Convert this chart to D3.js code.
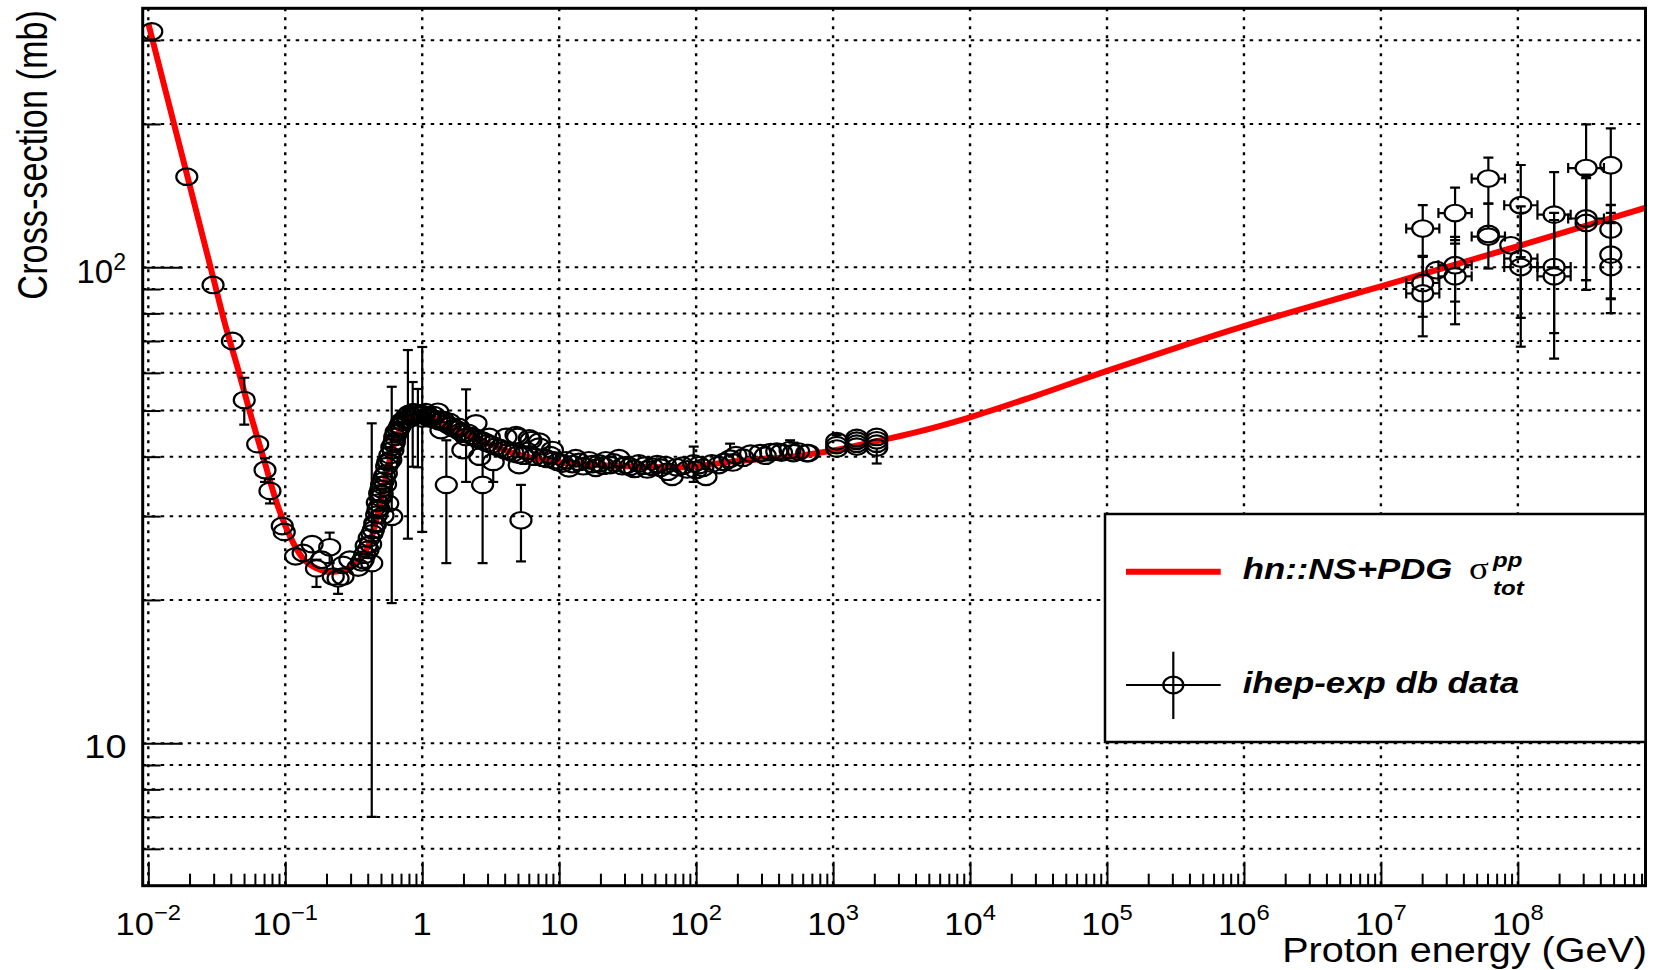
<!DOCTYPE html>
<html>
<head>
<meta charset="utf-8">
<script src="https://cdn.jsdelivr.net/npm/d3@7"></script>
<style>
  html, body { margin: 0; padding: 0; background: #fff; }
  svg { display: block; }
</style>
</head>
<body>
<svg id="chart" width="1654" height="970"></svg>
<script>
// ---------------------------------------------------------------------------
// Total pp cross-section (mb) versus proton laboratory energy (GeV)
// ---------------------------------------------------------------------------

// Model curve: hn::NS+PDG sigma_tot^pp  [energy GeV, cross-section mb]
const curveEnergy = [0.0100, 0.0191, 0.0298, 0.0363, 0.0442, 0.0553, 0.0692, 0.0866, 0.1083, 0.1354,
  0.170, 0.212, 0.265, 0.320, 0.370, 0.400, 0.450, 0.500, 0.550, 0.600, 0.650, 0.700, 0.800, 0.900,
  1.0, 1.2, 1.6, 2.64, 4.63, 10.1, 31, 76, 187, 574, 1000, 2000, 4000, 1e4, 3e4, 1e5, 3e5, 1e6, 3e6,
  1e7, 1e8, 8.6e8];
const curveSigma = [325, 157, 95, 76, 62.5, 49.5, 39.8, 32.0, 27.2, 24.4,
  23.3, 22.9, 23.1, 23.7, 24.8, 25.8, 28.5, 32.5, 37.0, 41.0, 44.0, 46.3, 48.2, 48.8,
  48.8, 48.2, 46.2, 43.3, 40.7, 38.9, 38.2, 38.0, 39.1, 40.2, 41.2, 43.0, 45.0, 48.4, 53.7, 60.6, 67.3, 75.2, 82.6,
  91.2, 110.7, 133.5];

// Measurements [energy GeV, sigma mb, error down, error up]
const thresholdPoints = [
  [0.0106, 313, 0, 0], [0.0191, 155, 0, 0], [0.0297, 91.8, 0, 0], [0.0411, 70, 0, 0],
  [0.0502, 52.6, 5.9, 6.0], [0.0629, 42.5, 0, 0], [0.0711, 37.5, 2.1, 2.2], [0.0773, 33.9, 2.0, 2.0],
  [0.0951, 28.6, 0, 0], [0.0983, 27.8, 0, 0], [0.119, 24.7, 0, 0], [0.135, 25.1, 0, 0],
  [0.157, 26.2, 0, 0], [0.169, 23.3, 2.0, 1.0], [0.184, 24.3, 0, 0], [0.211, 25.8, 1.9, 1.9],
  [0.224, 22.4, 0, 0], [0.243, 22.2, 1.6, 0.9], [0.264, 22.4, 0, 0], [0.264, 23.7, 0, 0],
  [0.296, 24.3, 0, 0], [0.34, 23.4, 0, 0], [0.36, 24.0, 0, 0], [0.37, 24.3, 0, 0],
  [0.38, 24.9, 0, 0], [0.39, 26.0, 0, 0], [0.402, 25.5, 0, 0]
];

const resonancePoints = [
  [0.41, 27.0, 0, 0], [0.42, 26.2, 0, 0], [0.428, 23.9, 16.9, 23.1], [0.43, 27.6, 0, 0],
  [0.44, 28.1, 0, 0], [0.45, 29.0, 0, 0], [0.455, 28.8, 0, 0], [0.465, 30.2, 0, 0],
  [0.47, 32.0, 0, 0], [0.475, 30.9, 0, 0], [0.48, 31.2, 0, 0], [0.489, 33.5, 0, 0],
  [0.495, 32.8, 0, 0], [0.50, 34.2, 0, 0], [0.505, 34.9, 0, 0], [0.51, 33.4, 0, 0],
  [0.517, 30.1, 0, 0], [0.52, 35.6, 0, 0], [0.53, 36.4, 0, 0], [0.54, 35.0, 0, 0],
  [0.547, 36.9, 0, 0], [0.55, 38.2, 0, 0], [0.56, 31.9, 0, 0], [0.56, 39.0, 0, 0],
  [0.57, 38.9, 0, 0], [0.58, 40.3, 0, 0], [0.59, 39.4, 0, 0], [0.599, 29.9, 10.2, 26.2],
  [0.60, 41.9, 0, 0], [0.611, 41.3, 0, 0], [0.62, 42.6, 0, 0], [0.626, 43.0, 0, 0],
  [0.63, 44.0, 0, 0], [0.645, 45.1, 0, 0], [0.65, 44.8, 0, 0], [0.67, 45.6, 0, 0],
  [0.684, 46.2, 0, 0], [0.69, 46.5, 0, 0], [0.71, 47.4, 0, 0], [0.72, 47.3, 0, 0],
  [0.74, 47.8, 0, 0], [0.77, 48.6, 0, 0], [0.786, 47.9, 21.0, 19.1], [0.80, 49.2, 0, 0],
  [0.83, 48.7, 0, 0], [0.852, 48.5, 10.4, 8.9], [0.86, 49.6, 0, 0], [0.89, 49.1, 0, 0],
  [0.905, 48.9, 0, 0], [0.93, 48.9, 10.9, 6.6], [0.97, 49.3, 0, 0], [1.0, 48.1, 20.3, 19.9],
  [1.02, 49.0, 0, 0], [1.06, 49.6, 0, 0], [1.1, 48.7, 0, 0], [1.13, 48.1, 0, 0],
  [1.16, 48.3, 0, 0], [1.22, 48.9, 0, 0], [1.28, 47.9, 0, 0], [1.3, 49.7, 0, 0],
  [1.34, 47.4, 0, 0], [1.37, 45.5, 0, 0], [1.42, 47.8, 0, 0], [1.5, 34.9, 11.0, 8.4],
  [1.5, 46.9, 0, 0], [1.58, 47.3, 0, 0], [1.6, 46.4, 0, 0], [1.7, 45.9, 0, 0],
  [1.8, 45.6, 0, 0], [1.84, 46.2, 0, 0], [1.9, 45.1, 0, 0], [1.98, 41.3, 0, 0],
  [2.0, 44.7, 0, 0], [2.09, 44.0, 8.6, 11.4], [2.15, 44.9, 0, 0], [2.3, 44.2, 0, 0],
  [2.45, 43.8, 0, 0], [2.47, 47.0, 0, 0], [2.6, 43.5, 0, 0], [2.63, 40.0, 0, 0],
  [2.76, 34.9, 11.0, 7.7], [2.8, 43.1, 0, 0], [3.0, 42.7, 0, 0]
];

const plateauPoints = [
  [3.09, 44.0, 0, 0], [3.2, 42.4, 0, 0], [3.3, 39.0, 3.6, 0], [3.45, 42.0, 0, 0],
  [3.7, 41.7, 0, 0], [3.98, 41.3, 0, 0], [4.09, 44.0, 0, 0], [4.3, 41.0, 0, 0],
  [4.6, 40.7, 0, 0], [4.84, 44.4, 0, 0], [4.97, 44.0, 0, 0], [5.0, 40.4, 0, 0],
  [5.1, 38.4, 0, 0], [5.26, 29.4, 5.3, 5.5], [5.5, 40.2, 0, 0], [5.8, 41.1, 0, 0],
  [6.05, 43.7, 0, 0], [6.22, 43.3, 0, 0], [6.6, 40.0, 0, 0], [7.15, 43.0, 0, 0],
  [7.15, 42.0, 0, 0], [7.6, 39.8, 0, 0], [8.1, 39.6, 0, 0], [8.6, 40.3, 0, 0],
  [8.93, 41.3, 0, 0], [9.2, 39.3, 0, 0], [9.8, 39.0, 0, 0], [10.6, 38.7, 0, 0],
  [11.2, 39.3, 0, 0], [11.8, 37.8, 0, 0], [12.5, 38.6, 0, 0], [13.2, 39.7, 0, 0],
  [14.0, 39.0, 0, 0], [15.0, 38.2, 0, 0], [16.5, 39.3, 0, 0], [17.5, 38.6, 0, 0],
  [18.5, 37.9, 0, 0], [19.5, 38.7, 0, 0], [21.0, 38.3, 0, 0], [21.9, 39.3, 0, 0],
  [23.5, 38.4, 0, 0], [25.0, 38.9, 0, 0], [27.3, 39.7, 0, 0], [29.0, 38.2, 0, 0],
  [30.9, 38.4, 0, 0], [33.0, 38.1, 0, 0], [35.5, 37.7, 0, 0], [38.2, 38.7, 0, 0],
  [42.0, 38.3, 0, 0], [44.0, 37.6, 0, 0], [47.8, 38.1, 0, 0], [52.0, 38.6, 0, 0],
  [55.0, 37.9, 0, 0], [59.8, 38.4, 0, 0], [62.0, 37.2, 0, 0], [66.8, 36.3, 0, 0],
  [72.0, 38.0, 0, 0], [80.0, 38.3, 0, 0], [86.0, 37.6, 0, 0], [96.0, 38.7, 3.3, 3.3],
  [100, 37.5, 0, 0], [105, 38.4, 0, 0], [112, 37.9, 0, 0], [118, 36.3, 0, 0],
  [130, 38.7, 0, 0], [146, 38.4, 0, 0], [160, 39.0, 0, 0], [177, 39.6, 0, 3.0],
  [185, 38.9, 0, 0], [195, 40.3, 0, 0], [220, 39.8, 0, 0], [250, 40.6, 0, 0],
  [293, 40.7, 0, 0], [320, 40.2, 0, 0], [350, 40.9, 0, 0], [388, 41.0, 0, 0],
  [420, 40.8, 0, 0], [485, 41.3, 0, 2.0], [513, 40.7, 0, 2.1], [560, 41.0, 0, 0],
  [642, 40.7, 0, 0], [660, 40.7, 0, 0]
];

const colliderPoints = [
  [1063, 41.6, 0, 0], [1063, 42.3, 0, 2.1], [1063, 43.1, 0, 0],
  [1488, 42.0, 0, 0], [1488, 42.6, 0, 0], [1488, 43.2, 0, 0], [1488, 43.8, 0, 0],
  [2083, 41.8, 0, 0], [2083, 42.6, 0, 0], [2083, 43.3, 4.6, 0], [2083, 44.0, 0, 0]
];

// Cosmic-ray estimates [energy, sigma, error down, error up, energy low, energy high]
const cosmicRayPoints = [
  [2.02e7, 120.6, 15.0, 14.5, 1.53e7, 2.67e7],
  [2.02e7, 92.7, 14.0, 13.0, 1.53e7, 2.67e7],
  [2.02e7, 88.1, 16.5, 17.0, 1.53e7, 2.67e7],
  [2.56e7, 98.6, 0, 0, 2.56e7, 2.56e7],
  [3.48e7, 130.0, 16.0, 17.0, 2.63e7, 4.60e7],
  [3.48e7, 101.0, 16.3, 14.8, 2.63e7, 4.60e7],
  [3.48e7, 95.7, 19.8, 16.4, 2.63e7, 4.60e7],
  [6.09e7, 153.6, 17.5, 16.4, 4.60e7, 8.05e7],
  [6.09e7, 116.0, 16.6, 20.0, 4.60e7, 8.05e7],
  [6.09e7, 117.5, 3.0, 3.0, 6.09e7, 6.09e7],
  [8.88e7, 111.2, 0, 0, 8.88e7, 8.88e7],
  [1.05e8, 135.0, 30.0, 29.0, 7.95e7, 1.39e8],
  [1.05e8, 104.3, 26.0, 30.0, 7.95e7, 1.39e8],
  [1.05e8, 100.1, 32.0, 30.0, 7.95e7, 1.39e8],
  [1.84e8, 129.0, 29.0, 29.5, 1.39e8, 2.43e8],
  [1.84e8, 100.1, 27.4, 30.0, 1.39e8, 2.43e8],
  [1.84e8, 95.7, 31.4, 30.0, 1.39e8, 2.43e8],
  [3.15e8, 161.6, 72.0, 38.0, 2.33e8, 4.25e8],
  [3.15e8, 126.6, 32.6, 30.0, 2.33e8, 4.25e8],
  [3.15e8, 123.9, 30.0, 30.0, 3.15e8, 3.15e8],
  [4.77e8, 163.8, 40.0, 32.0, 4.77e8, 4.77e8],
  [4.77e8, 120.0, 34.0, 15.0, 4.77e8, 4.77e8],
  [4.77e8, 106.3, 20.6, 29.0, 4.77e8, 4.77e8],
  [4.77e8, 100.1, 20.0, 30.0, 4.77e8, 4.77e8]
];

// Axis ranges and tick values
const xDomain = [0.0091, 8.55e8];
const yDomain = [5.02, 350];
const xDecadePowers = [-2, -1, 0, 1, 2, 3, 4, 5, 6, 7, 8];
const yMajorTicks = [10, 100];
const yMinorTicks = [6, 7, 8, 9, 20, 30, 40, 50, 60, 70, 80, 90, 200, 300];

const legendLabels = ["hn::NS+PDG", "ihep-exp db data"];
const xTitle = "Proton energy (GeV)";
const yTitle = "Cross-section (mb)";

// ---------------------------------------------------------------------------
const frame = { left: 142.7, right: 1645.5, top: 8.3, bottom: 885.7 };
const FONT = "'Liberation Sans', Arial, Helvetica, sans-serif";
const RX = 10.5, RY = 8.3, CAP = 5;

const svg = d3.select("#chart");
const x = d3.scaleLog().domain(xDomain).range([frame.left, frame.right]);
const y = d3.scaleLog().domain(yDomain).range([frame.bottom, frame.top]);

svg.append("defs").append("clipPath").attr("id", "plotClip")
  .append("rect")
  .attr("x", frame.left).attr("y", frame.top)
  .attr("width", frame.right - frame.left).attr("height", frame.bottom - frame.top);

// Dotted grid
const grid = svg.append("g").attr("clip-path", "url(#plotClip)");
const xMajorValues = xDecadePowers.map(p => Math.pow(10, p));
grid.selectAll("line.gx").data(xMajorValues).join("line")
  .attr("x1", d => x(d)).attr("x2", d => x(d))
  .attr("y1", frame.top).attr("y2", frame.bottom)
  .attr("stroke", "#000").attr("stroke-width", 2.4).attr("stroke-dasharray", "3,6");
grid.selectAll("line.gy").data(yMajorTicks.concat(yMinorTicks)).join("line")
  .attr("x1", frame.left).attr("x2", frame.right)
  .attr("y1", d => y(d)).attr("y2", d => y(d))
  .attr("stroke", "#000").attr("stroke-width", 2).attr("stroke-dasharray", "3.5,5.5");

// Model curve
const plotArea = svg.append("g").attr("clip-path", "url(#plotClip)");
const curveData = curveEnergy.map((e, i) => [e, curveSigma[i]]);
plotArea.append("path")
  .datum(curveData)
  .attr("fill", "none").attr("stroke", "#ff0000").attr("stroke-width", 6)
  .attr("stroke-linejoin", "round")
  .attr("d", d3.line().x(d => x(d[0])).y(d => y(d[1])).curve(d3.curveMonotoneX));

// Measurements
const points = []
  .concat(thresholdPoints, resonancePoints, plateauPoints, colliderPoints)
  .map(d => ({ e: d[0], s: d[1], lo: d[2], hi: d[3], eLo: d[0], eHi: d[0] }))
  .concat(cosmicRayPoints.map(d => ({ e: d[0], s: d[1], lo: d[2], hi: d[3], eLo: d[4], eHi: d[5] })));

const bars = plotArea.append("g").attr("stroke", "#000").attr("stroke-width", 2.2);
function seg(x1, y1, x2, y2) {
  bars.append("line").attr("x1", x1).attr("y1", y1).attr("x2", x2).attr("y2", y2);
}
points.forEach(p => {
  const cx = x(p.e), cy = y(p.s);
  if (p.hi > 0) {
    const yt = y(p.s + p.hi);
    if (yt < cy - RY) { seg(cx, yt, cx, cy - RY); seg(cx - CAP, yt, cx + CAP, yt); }
  }
  if (p.lo > 0) {
    const yb = y(p.s - p.lo);
    if (yb > cy + RY) { seg(cx, cy + RY, cx, yb); seg(cx - CAP, yb, cx + CAP, yb); }
  }
  if (p.eLo < p.e) {
    const xl = x(p.eLo);
    if (xl < cx - RX) { seg(xl, cy, cx - RX, cy); seg(xl, cy - CAP, xl, cy + CAP); }
  }
  if (p.eHi > p.e) {
    const xr = x(p.eHi);
    if (xr > cx + RX) { seg(cx + RX, cy, xr, cy); seg(xr, cy - CAP, xr, cy + CAP); }
  }
});

plotArea.append("g").selectAll("ellipse").data(points).join("ellipse")
  .attr("cx", d => x(d.e)).attr("cy", d => y(d.s))
  .attr("rx", RX).attr("ry", RY)
  .attr("fill", "none").attr("stroke", "#000").attr("stroke-width", 2.2);

// Frame
svg.append("rect")
  .attr("x", frame.left).attr("y", frame.top)
  .attr("width", frame.right - frame.left).attr("height", frame.bottom - frame.top)
  .attr("fill", "none").attr("stroke", "#000").attr("stroke-width", 3);

// Ticks drawn with d3 axes (inward)
const xMinorValues = [];
xDecadePowers.forEach(p => {
  for (let k = 2; k <= 9; k++) {
    const v = k * Math.pow(10, p);
    if (v > xDomain[0] && v < xDomain[1]) xMinorValues.push(v);
  }
});
function styleTicks(g) {
  g.select(".domain").remove();
  g.selectAll(".tick line").attr("stroke", "#000").attr("stroke-width", 2);
  g.selectAll(".tick text").remove();
}
svg.append("g").attr("transform", `translate(0,${frame.bottom})`)
  .call(d3.axisBottom(x).tickValues(xMajorValues).tickSize(-24).tickFormat(""))
  .call(styleTicks);
svg.append("g").attr("transform", `translate(0,${frame.bottom})`)
  .call(d3.axisBottom(x).tickValues(xMinorValues).tickSize(-12).tickFormat(""))
  .call(styleTicks);
svg.append("g").attr("transform", `translate(${frame.left},0)`)
  .call(d3.axisLeft(y).tickValues(yMajorTicks).tickSize(-40).tickFormat(""))
  .call(styleTicks);
svg.append("g").attr("transform", `translate(${frame.left},0)`)
  .call(d3.axisLeft(y).tickValues(yMinorTicks).tickSize(-18).tickFormat(""))
  .call(styleTicks);

// Text helper: horizontally stretched glyphs
function addText(parent, px, py, o) {
  let tr = `translate(${px},${py}) scale(${o.sx || 1},1)`;
  if (o.rotate) tr += ` rotate(${o.rotate})`;
  return parent.append("text")
    .attr("transform", tr)
    .attr("text-anchor", o.anchor || "start")
    .attr("font-family", o.family || FONT)
    .attr("font-size", o.size)
    .attr("font-weight", o.weight || "normal")
    .attr("font-style", o.style || "normal")
    .attr("fill", "#000");
}

// X tick labels
const labels = svg.append("g");
xDecadePowers.forEach(p => {
  const t = addText(labels, x(Math.pow(10, p)), 934.5, { size: 32, sx: 1.08, anchor: "middle" });
  if (p === 0) t.text("1");
  else if (p === 1) t.text("10");
  else {
    t.append("tspan").text("10");
    t.append("tspan").attr("dy", -15).attr("font-size", 22).text(p < 0 ? "\u2212" + (-p) : String(p));
  }
});

// Y tick labels
addText(labels, 126.5, y(10) + 15, { size: 33, sx: 1.15, anchor: "end" }).text("10");
{
  const t = addText(labels, 126, y(100) + 16, { size: 33, sx: 1.0, anchor: "end" });
  t.append("tspan").text("10");
  t.append("tspan").attr("dy", -13).attr("font-size", 23).text("2");
}

// Axis titles
addText(labels, 1647, 962, { size: 35, sx: 1.13, anchor: "end" }).text(xTitle);
addText(labels, 46.7, 10, { size: 34.3, sx: 1.22, anchor: "end", rotate: -90 }).text(yTitle);

// Legend
const legend = svg.append("g");
legend.append("rect")
  .attr("x", 1105).attr("y", 514).attr("width", frame.right - 1105).attr("height", 228)
  .attr("fill", "#fff").attr("stroke", "#000").attr("stroke-width", 2.5);
legend.append("line")
  .attr("x1", 1126).attr("x2", 1220.7).attr("y1", 571.7).attr("y2", 571.7)
  .attr("stroke", "#ff0000").attr("stroke-width", 6);
addText(legend, 1242.7, 579.3, { size: 29, sx: 1.2, weight: "bold", style: "italic" }).text(legendLabels[0]);
addText(legend, 1469, 579.3, { size: 32, sx: 1.15, family: "'Liberation Serif', 'DejaVu Serif', serif" }).text("\u03C3");
addText(legend, 1493, 566.5, { size: 20, sx: 1.2, weight: "bold", style: "italic" }).text("pp");
addText(legend, 1493, 594.5, { size: 20, sx: 1.2, weight: "bold", style: "italic" }).text("tot");

const lg = legend.append("g").attr("stroke", "#000").attr("stroke-width", 2.2);
lg.append("line").attr("x1", 1126).attr("x2", 1220.7).attr("y1", 685).attr("y2", 685);
lg.append("line").attr("x1", 1173.3).attr("x2", 1173.3).attr("y1", 651.7).attr("y2", 719);
lg.append("ellipse").attr("cx", 1173.3).attr("cy", 685).attr("rx", 10).attr("ry", 8.3).attr("fill", "none");
addText(legend, 1242.7, 693.3, { size: 29, sx: 1.2, weight: "bold", style: "italic" }).text(legendLabels[1]);
</script>
</body>
</html>
